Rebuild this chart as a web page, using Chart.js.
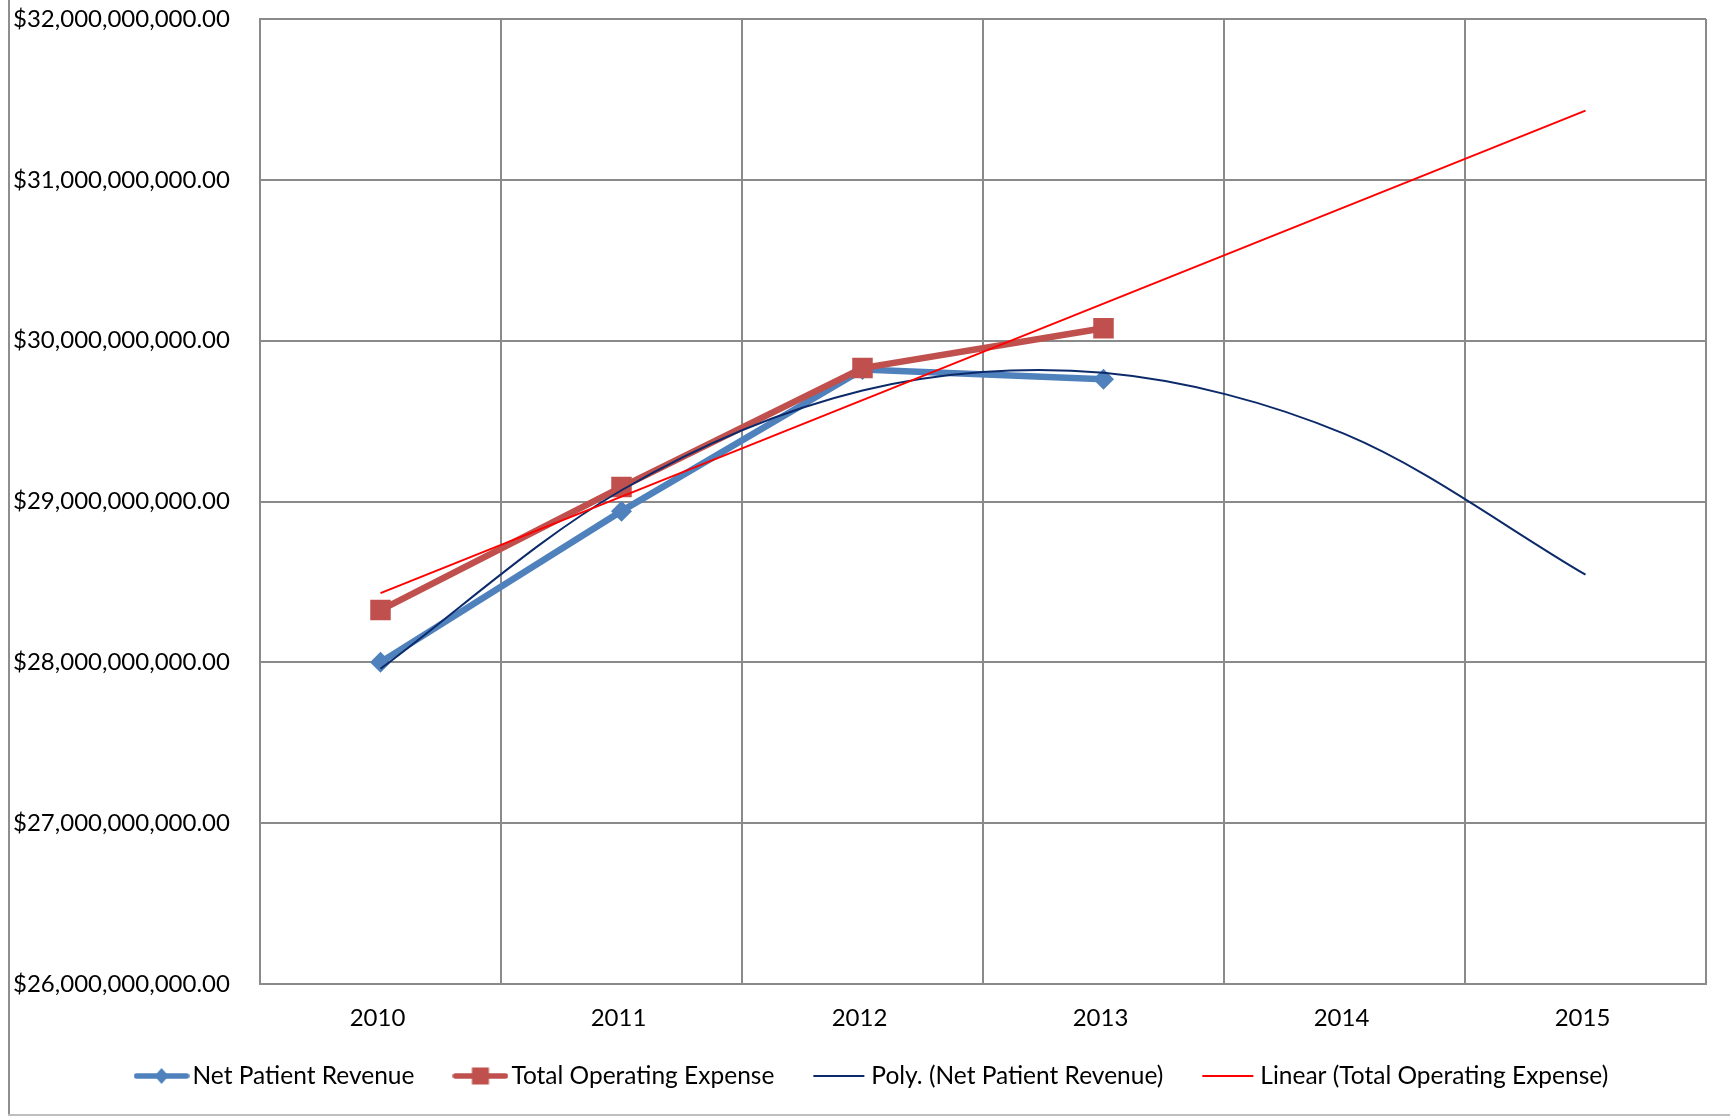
<!DOCTYPE html>
<html>
<head>
<meta charset="utf-8">
<title>Net Patient Revenue vs Total Operating Expense</title>
<script src="https://cdn.jsdelivr.net/npm/chart.js@4/dist/chart.umd.min.js"></script>
<style>
  html, body { margin: 0; padding: 0; background: #ffffff; }
  canvas { display: block; }
</style>
</head>
<body>
<canvas id="chart" width="1730" height="1116"></canvas>
<script>
// Fiscal years on the category axis
const years = ['2010', '2011', '2012', '2013', '2014', '2015'];

// Reported figures (USD)
const netPatientRevenue     = [28.00e9, 28.94e9, 29.82e9, 29.76e9, null, null];
const totalOperatingExpense = [28.325e9, 29.09e9, 29.83e9, 30.077e9, null, null];

// Trend lines, forecast through 2015
const polyNetPatientRevenue       = [27.96e9, 29.07e9, 29.69e9, 29.80e9, 29.42e9, 28.545e9];
const linearTotalOperatingExpense = [28.43e9, null, null, null, null, 31.43e9];

// Value axis ticks
const yTickValues = [26e9, 27e9, 28e9, 29e9, 30e9, 31e9, 32e9];

const BLUE = '#4F81BD';
const RED = '#C0504D';
const NAVY = '#0C2A6A';
const TREND_RED = '#FF0000';
const GRID = '#8A8A8A';

const TICK_FONT = 24;
const LEGEND_FONT = 24.5;

Chart.defaults.font.family = 'Lato, "Open Sans", sans-serif';
Chart.defaults.font.size = TICK_FONT;
Chart.defaults.color = '#000000';

// Legend keys: a short line segment with the series marker on it
function makeKey(color, lineWidth, marker) {
  const c = document.createElement('canvas');
  c.width = 56; c.height = 24;
  const g = c.getContext('2d');
  g.strokeStyle = color;
  g.lineWidth = lineWidth;
  g.lineCap = lineWidth > 3 ? 'round' : 'butt';
  g.beginPath();
  g.moveTo(lineWidth > 3 ? 3 : 1, 12);
  g.lineTo(lineWidth > 3 ? 53 : 52, 12);
  g.stroke();
  g.fillStyle = color;
  if (marker === 'diamond') {
    g.beginPath();
    g.moveTo(28, 4); g.lineTo(35, 12); g.lineTo(28, 20); g.lineTo(21, 12);
    g.closePath(); g.fill();
  } else if (marker === 'square') {
    g.fillRect(19.5, 3.5, 17, 17);
  }
  return c;
}
const legendKeys = [
  makeKey(BLUE, 5.5, 'diamond'),
  makeKey(RED, 5.5, 'square'),
  makeKey(NAVY, 2, null),
  makeKey(TREND_RED, 2, null)
];

// Outer chart frame (left and bottom edges)
const framePlugin = {
  id: 'frame',
  beforeDraw(chart) {
    const ctx = chart.ctx;
    ctx.save();
    ctx.lineWidth = 2;
    ctx.strokeStyle = '#8E8E8E';
    ctx.beginPath(); ctx.moveTo(9, 0); ctx.lineTo(9, 1115); ctx.stroke();
    ctx.strokeStyle = '#BEBEBE';
    ctx.beginPath(); ctx.moveTo(8, 1115); ctx.lineTo(1730, 1115); ctx.stroke();
    ctx.restore();
  }
};

// Pull the legend row up closer to the axis labels and centre it under the plot
const legendNudge = {
  id: 'legendNudge',
  afterLayout(chart) {
    const lg = chart.legend;
    if (!lg) return;
    lg.top -= 15.5; lg.bottom -= 15.5;
    lg.left += 16; lg.right += 16;
  }
};

const moneyFmt = new Intl.NumberFormat('en-US', { minimumFractionDigits: 2, maximumFractionDigits: 2 });

new Chart(document.getElementById('chart'), {
  type: 'line',
  data: {
    labels: years,
    datasets: [
      {
        label: 'Net Patient Revenue',
        data: netPatientRevenue,
        borderColor: BLUE,
        backgroundColor: BLUE,
        borderWidth: 6.5,
        pointStyle: 'rectRot',
        pointRadius: 10.5,
        pointBorderWidth: 0,
        pointBackgroundColor: BLUE,
        tension: 0,
        order: 4
      },
      {
        label: 'Total Operating Expense',
        data: totalOperatingExpense,
        borderColor: RED,
        backgroundColor: RED,
        borderWidth: 6.5,
        pointStyle: 'rect',
        pointRadius: 14.5,
        pointBorderWidth: 0,
        pointBackgroundColor: RED,
        tension: 0,
        order: 3
      },
      {
        label: 'Poly. (Net Patient Revenue)',
        data: polyNetPatientRevenue,
        borderColor: NAVY,
        backgroundColor: NAVY,
        borderWidth: 2,
        pointRadius: 0,
        tension: 0.33,
        order: 2
      },
      {
        label: 'Linear (Total Operating Expense)',
        data: linearTotalOperatingExpense,
        borderColor: TREND_RED,
        backgroundColor: TREND_RED,
        borderWidth: 2,
        pointRadius: 0,
        spanGaps: true,
        tension: 0,
        order: 1
      }
    ]
  },
  options: {
    responsive: false,
    animation: false,
    devicePixelRatio: 1,
    layout: { padding: { left: 13, right: 24, top: 19, bottom: 2.25 } },
    plugins: {
      tooltip: { enabled: false },
      legend: {
        position: 'bottom',
        labels: {
          usePointStyle: true,
          pointStyleWidth: 37.5,
          boxHeight: LEGEND_FONT,
          padding: 47.25,
          color: '#000000',
          font: { size: LEGEND_FONT },
          sort: (a, b) => a.datasetIndex - b.datasetIndex,
          generateLabels(chart) {
            const items = Chart.defaults.plugins.legend.labels.generateLabels(chart);
            items.forEach(it => { it.pointStyle = legendKeys[it.datasetIndex]; });
            return items;
          }
        }
      }
    },
    scales: {
      x: {
        type: 'category',
        offset: true,
        grid: { offset: true, color: GRID, lineWidth: 2, drawTicks: false },
        border: { color: GRID, width: 2 },
        ticks: { padding: 20, labelOffset: -3, color: '#000000', font: { size: TICK_FONT }, maxRotation: 0 },
        afterFit(scale) { scale.height = 48; }
      },
      y: {
        min: 26e9,
        max: 32e9,
        grid: { color: GRID, lineWidth: 2, drawTicks: false },
        border: { color: GRID, width: 2 },
        afterBuildTicks(scale) { scale.ticks = yTickValues.map(v => ({ value: v })); },
        afterFit(scale) { scale.width = 247; },
        ticks: {
          crossAlign: 'far',
          padding: 0,
          color: '#000000',
          font: { size: TICK_FONT },
          callback: v => '$' + moneyFmt.format(v)
        }
      }
    }
  },
  plugins: [framePlugin, legendNudge]
});
</script>
</body>
</html>
